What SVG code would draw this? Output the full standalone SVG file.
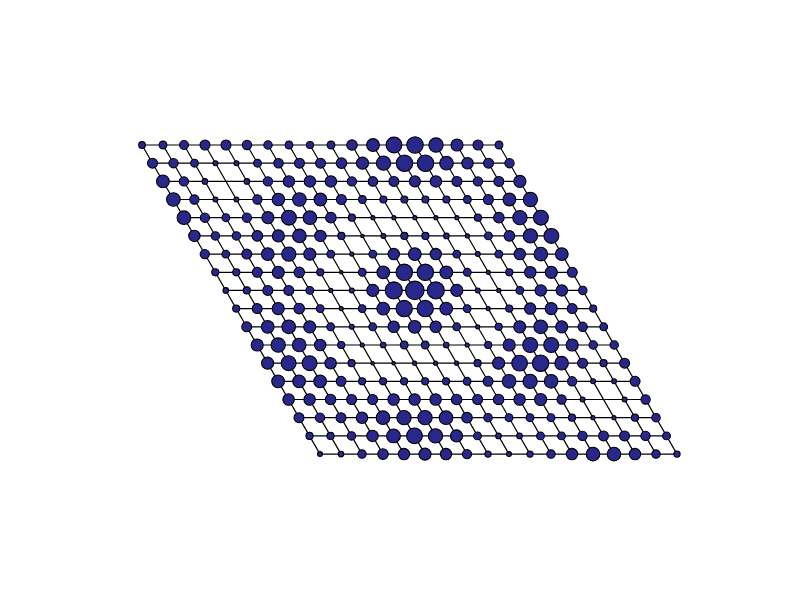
<svg xmlns="http://www.w3.org/2000/svg" width="800" height="600" viewBox="0 0 800 600">
<style>
.e line{stroke:#000;stroke-width:1.2;fill:none}
.n circle{fill:#28288c;stroke:#000;stroke-width:1;transform-box:fill-box;transform-origin:center;transform:scale(1.08)}
</style>
<rect width="800" height="600" fill="#fff"/>
<g id="connectors" class="e">
<line x1="142" y1="145" x2="499" y2="145"/>
<line x1="152.5" y1="163.2" x2="509.5" y2="163.2"/>
<line x1="162.9" y1="181.4" x2="519.9" y2="181.4"/>
<line x1="173.4" y1="199.5" x2="530.4" y2="199.5"/>
<line x1="183.9" y1="217.7" x2="540.9" y2="217.7"/>
<line x1="194.4" y1="235.9" x2="551.4" y2="235.9"/>
<line x1="204.8" y1="254.1" x2="561.8" y2="254.1"/>
<line x1="215.3" y1="272.3" x2="572.3" y2="272.3"/>
<line x1="225.8" y1="290.4" x2="582.8" y2="290.4"/>
<line x1="236.2" y1="308.6" x2="593.2" y2="308.6"/>
<line x1="246.7" y1="326.8" x2="603.7" y2="326.8"/>
<line x1="257.2" y1="345" x2="614.2" y2="345"/>
<line x1="267.6" y1="363.2" x2="624.6" y2="363.2"/>
<line x1="278.1" y1="381.3" x2="635.1" y2="381.3"/>
<line x1="288.6" y1="399.5" x2="645.6" y2="399.5"/>
<line x1="299" y1="417.7" x2="656" y2="417.7"/>
<line x1="309.5" y1="435.9" x2="666.5" y2="435.9"/>
<line x1="320" y1="454.1" x2="677" y2="454.1"/>
<line x1="142" y1="145" x2="320" y2="454.1"/>
<line x1="163" y1="145" x2="341" y2="454.1"/>
<line x1="184" y1="145" x2="362" y2="454.1"/>
<line x1="205" y1="145" x2="383" y2="454.1"/>
<line x1="226" y1="145" x2="404" y2="454.1"/>
<line x1="247" y1="145" x2="425" y2="454.1"/>
<line x1="268" y1="145" x2="446" y2="454.1"/>
<line x1="289" y1="145" x2="467" y2="454.1"/>
<line x1="310" y1="145" x2="488" y2="454.1"/>
<line x1="331" y1="145" x2="509" y2="454.1"/>
<line x1="352" y1="145" x2="530" y2="454.1"/>
<line x1="373" y1="145" x2="551" y2="454.1"/>
<line x1="394" y1="145" x2="572" y2="454.1"/>
<line x1="415" y1="145" x2="593" y2="454.1"/>
<line x1="436" y1="145" x2="614" y2="454.1"/>
<line x1="457" y1="145" x2="635" y2="454.1"/>
<line x1="478" y1="145" x2="656" y2="454.1"/>
<line x1="499" y1="145" x2="677" y2="454.1"/>
</g>
<g id="nodes" class="n">
<g transform="translate(142 145)">
<g id="n0-0"><circle cx="0" r="3.1"/></g><g id="n0-1"><circle cx="21" r="3.6"/></g><g id="n0-2"><circle cx="42" r="4.1"/></g><g id="n0-3"><circle cx="63" r="4.6"/></g><g id="n0-4"><circle cx="84" r="4.6"/></g><g id="n0-5"><circle cx="105" r="4.3"/></g><g id="n0-6"><circle cx="126" r="3.9"/></g><g id="n0-7"><circle cx="147" r="3.6"/></g><g id="n0-8"><circle cx="168" r="3.3"/></g><g id="n0-9"><circle cx="189" r="3.6"/></g><g id="n0-10"><circle cx="210" r="4.9"/></g><g id="n0-11"><circle cx="231" r="5.9"/></g><g id="n0-12"><circle cx="252" r="7.3"/></g><g id="n0-13"><circle cx="273" r="7.6"/></g><g id="n0-14"><circle cx="294" r="6.6"/></g><g id="n0-15"><circle cx="315" r="5.6"/></g><g id="n0-16"><circle cx="336" r="4.6"/></g><g id="n0-17"><circle cx="357" r="3.6"/></g>
</g>
<g transform="translate(152.5 163.2)">
<g id="n1-0"><circle cx="0" r="4.6"/></g><g id="n1-1"><circle cx="21" r="4.3"/></g><g id="n1-2"><circle cx="42" r="3.6"/></g><g id="n1-3"><circle cx="63" r="2.3"/></g><g id="n1-4"><circle cx="84" r="2.3"/></g><g id="n1-5"><circle cx="105" r="3.6"/></g><g id="n1-6"><circle cx="126" r="4.4"/></g><g id="n1-7"><circle cx="147" r="4.6"/></g><g id="n1-8"><circle cx="168" r="4.6"/></g><g id="n1-9"><circle cx="189" r="4.9"/></g><g id="n1-10"><circle cx="210" r="5.6"/></g><g id="n1-11"><circle cx="231" r="6.6"/></g><g id="n1-12"><circle cx="252" r="7.6"/></g><g id="n1-13"><circle cx="273" r="7.6"/></g><g id="n1-14"><circle cx="294" r="6.3"/></g><g id="n1-15"><circle cx="315" r="5.3"/></g><g id="n1-16"><circle cx="336" r="4.6"/></g><g id="n1-17"><circle cx="357" r="4.3"/></g>
</g>
<g transform="translate(162.9 181.4)">
<g id="n2-0"><circle cx="0" r="5.9"/></g><g id="n2-1"><circle cx="21" r="4.3"/></g><g id="n2-2"><circle cx="42" r="2.6"/></g><g id="n2-4"><circle cx="84" r="2.6"/></g><g id="n2-5"><circle cx="105" r="4.3"/></g><g id="n2-6"><circle cx="126" r="5.3"/></g><g id="n2-7"><circle cx="147" r="5.3"/></g><g id="n2-8"><circle cx="168" r="5.3"/></g><g id="n2-9"><circle cx="189" r="4.3"/></g><g id="n2-10"><circle cx="210" r="4.4"/></g><g id="n2-11"><circle cx="231" r="4.6"/></g><g id="n2-12"><circle cx="252" r="5.1"/></g><g id="n2-13"><circle cx="273" r="5.3"/></g><g id="n2-14"><circle cx="294" r="4.6"/></g><g id="n2-15"><circle cx="315" r="4.3"/></g><g id="n2-16"><circle cx="336" r="4.6"/></g><g id="n2-17"><circle cx="357" r="5.6"/></g>
</g>
<g transform="translate(173.4 199.5)">
<g id="n3-0"><circle cx="0" r="6.3"/></g><g id="n3-1"><circle cx="21" r="4.3"/></g><g id="n3-2"><circle cx="42" r="2.3"/></g><g id="n3-3"><circle cx="63" r="2.3"/></g><g id="n3-4"><circle cx="84" r="4.3"/></g><g id="n3-5"><circle cx="105" r="5.8"/></g><g id="n3-6"><circle cx="126" r="6.3"/></g><g id="n3-7"><circle cx="147" r="5.9"/></g><g id="n3-8"><circle cx="168" r="4.6"/></g><g id="n3-9"><circle cx="189" r="3.6"/></g><g id="n3-10"><circle cx="210" r="3.3"/></g><g id="n3-11"><circle cx="231" r="3.3"/></g><g id="n3-12"><circle cx="252" r="3.3"/></g><g id="n3-13"><circle cx="273" r="3.3"/></g><g id="n3-14"><circle cx="294" r="3.6"/></g><g id="n3-15"><circle cx="315" r="4.6"/></g><g id="n3-16"><circle cx="336" r="5.9"/></g><g id="n3-17"><circle cx="357" r="6.6"/></g>
</g>
<g transform="translate(183.9 217.7)">
<g id="n4-0"><circle cx="0" r="6.3"/></g><g id="n4-1"><circle cx="21" r="4.3"/></g><g id="n4-2"><circle cx="42" r="3.6"/></g><g id="n4-3"><circle cx="63" r="4.3"/></g><g id="n4-4"><circle cx="84" r="5.6"/></g><g id="n4-5"><circle cx="105" r="6.9"/></g><g id="n4-6"><circle cx="126" r="6.3"/></g><g id="n4-7"><circle cx="147" r="4.9"/></g><g id="n4-8"><circle cx="168" r="3.3"/></g><g id="n4-9"><circle cx="189" r="1.9"/></g><g id="n4-10"><circle cx="210" r="1.9"/></g><g id="n4-11"><circle cx="231" r="1.9"/></g><g id="n4-12"><circle cx="252" r="1.9"/></g><g id="n4-13"><circle cx="273" r="1.9"/></g><g id="n4-14"><circle cx="294" r="3.3"/></g><g id="n4-15"><circle cx="315" r="4.9"/></g><g id="n4-16"><circle cx="336" r="6.6"/></g><g id="n4-17"><circle cx="357" r="6.9"/></g>
</g>
<g transform="translate(194.4 235.9)">
<g id="n5-0"><circle cx="0" r="5.3"/></g><g id="n5-1"><circle cx="21" r="3.9"/></g><g id="n5-2"><circle cx="42" r="3.9"/></g><g id="n5-3"><circle cx="63" r="4.9"/></g><g id="n5-4"><circle cx="84" r="5.6"/></g><g id="n5-5"><circle cx="105" r="6.3"/></g><g id="n5-6"><circle cx="126" r="5.3"/></g><g id="n5-7"><circle cx="147" r="3.3"/></g><g id="n5-8"><circle cx="168" r="1.6"/></g><g id="n5-9"><circle cx="189" r="2.3"/></g><g id="n5-10"><circle cx="210" r="3.3"/></g><g id="n5-11"><circle cx="231" r="3.3"/></g><g id="n5-12"><circle cx="252" r="2.6"/></g><g id="n5-13"><circle cx="273" r="1.9"/></g><g id="n5-14"><circle cx="294" r="3.6"/></g><g id="n5-15"><circle cx="315" r="4.9"/></g><g id="n5-16"><circle cx="336" r="6.6"/></g><g id="n5-17"><circle cx="357" r="6.9"/></g>
</g>
<g transform="translate(204.8 254.1)">
<g id="n6-0"><circle cx="0" r="4.3"/></g><g id="n6-1"><circle cx="21" r="3.6"/></g><g id="n6-2"><circle cx="42" r="4.6"/></g><g id="n6-3"><circle cx="63" r="5.9"/></g><g id="n6-4"><circle cx="84" r="6.6"/></g><g id="n6-5"><circle cx="105" r="5.6"/></g><g id="n6-6"><circle cx="126" r="3.6"/></g><g id="n6-7"><circle cx="147" r="1.9"/></g><g id="n6-8"><circle cx="168" r="3.6"/></g><g id="n6-9"><circle cx="189" r="5.3"/></g><g id="n6-10"><circle cx="210" r="5.9"/></g><g id="n6-11"><circle cx="231" r="5.3"/></g><g id="n6-12"><circle cx="252" r="3.6"/></g><g id="n6-13"><circle cx="273" r="2.3"/></g><g id="n6-14"><circle cx="294" r="3.6"/></g><g id="n6-15"><circle cx="315" r="5.3"/></g><g id="n6-16"><circle cx="336" r="6.3"/></g><g id="n6-17"><circle cx="357" r="5.9"/></g>
</g>
<g transform="translate(215.3 272.3)">
<g id="n7-0"><circle cx="0" r="3.3"/></g><g id="n7-1"><circle cx="21" r="3.3"/></g><g id="n7-2"><circle cx="42" r="4.6"/></g><g id="n7-3"><circle cx="63" r="5.6"/></g><g id="n7-4"><circle cx="84" r="4.9"/></g><g id="n7-5"><circle cx="105" r="3.3"/></g><g id="n7-6"><circle cx="126" r="1.6"/></g><g id="n7-7"><circle cx="147" r="3.6"/></g><g id="n7-8"><circle cx="168" r="5.9"/></g><g id="n7-9"><circle cx="189" r="7.6"/></g><g id="n7-10"><circle cx="210" r="7.6"/></g><g id="n7-11"><circle cx="231" r="5.9"/></g><g id="n7-12"><circle cx="252" r="3.6"/></g><g id="n7-13"><circle cx="273" r="1.9"/></g><g id="n7-14"><circle cx="294" r="3.3"/></g><g id="n7-15"><circle cx="315" r="5.3"/></g><g id="n7-16"><circle cx="336" r="5.6"/></g><g id="n7-17"><circle cx="357" r="4.6"/></g>
</g>
<g transform="translate(225.8 290.4)">
<g id="n8-0"><circle cx="0" r="2.6"/></g><g id="n8-1"><circle cx="21" r="3.3"/></g><g id="n8-2"><circle cx="42" r="4.6"/></g><g id="n8-3"><circle cx="63" r="4.6"/></g><g id="n8-4"><circle cx="84" r="3.6"/></g><g id="n8-5"><circle cx="105" r="1.9"/></g><g id="n8-6"><circle cx="126" r="2.3"/></g><g id="n8-7"><circle cx="147" r="5.6"/></g><g id="n8-8"><circle cx="168" r="7.9"/></g><g id="n8-9"><circle cx="189" r="8.6"/></g><g id="n8-10"><circle cx="210" r="7.9"/></g><g id="n8-11"><circle cx="231" r="5.6"/></g><g id="n8-12"><circle cx="252" r="2.3"/></g><g id="n8-13"><circle cx="273" r="1.9"/></g><g id="n8-14"><circle cx="294" r="3.6"/></g><g id="n8-15"><circle cx="315" r="5.3"/></g><g id="n8-16"><circle cx="336" r="5.3"/></g><g id="n8-17"><circle cx="357" r="3.9"/></g>
</g>
<g transform="translate(236.2 308.6)">
<g id="n9-0"><circle cx="0" r="3.3"/></g><g id="n9-1"><circle cx="21" r="4.6"/></g><g id="n9-2"><circle cx="42" r="5.6"/></g><g id="n9-3"><circle cx="63" r="4.9"/></g><g id="n9-4"><circle cx="84" r="3.6"/></g><g id="n9-5"><circle cx="105" r="1.9"/></g><g id="n9-6"><circle cx="126" r="3.6"/></g><g id="n9-7"><circle cx="147" r="5.9"/></g><g id="n9-8"><circle cx="168" r="7.6"/></g><g id="n9-9"><circle cx="189" r="7.6"/></g><g id="n9-10"><circle cx="210" r="5.9"/></g><g id="n9-11"><circle cx="231" r="3.6"/></g><g id="n9-12"><circle cx="252" r="1.9"/></g><g id="n9-13"><circle cx="273" r="3.3"/></g><g id="n9-14"><circle cx="294" r="5.3"/></g><g id="n9-15"><circle cx="315" r="5.6"/></g><g id="n9-16"><circle cx="336" r="4.6"/></g><g id="n9-17"><circle cx="357" r="3.3"/></g>
</g>
<g transform="translate(246.7 326.8)">
<g id="n10-0"><circle cx="0" r="4.6"/></g><g id="n10-1"><circle cx="21" r="5.9"/></g><g id="n10-2"><circle cx="42" r="6.3"/></g><g id="n10-3"><circle cx="63" r="5.6"/></g><g id="n10-4"><circle cx="84" r="3.6"/></g><g id="n10-5"><circle cx="105" r="2.3"/></g><g id="n10-6"><circle cx="126" r="3.6"/></g><g id="n10-7"><circle cx="147" r="5.3"/></g><g id="n10-8"><circle cx="168" r="5.9"/></g><g id="n10-9"><circle cx="189" r="5.3"/></g><g id="n10-10"><circle cx="210" r="3.6"/></g><g id="n10-11"><circle cx="231" r="1.9"/></g><g id="n10-12"><circle cx="252" r="3.3"/></g><g id="n10-13"><circle cx="273" r="5.6"/></g><g id="n10-14"><circle cx="294" r="6.3"/></g><g id="n10-15"><circle cx="315" r="5.6"/></g><g id="n10-16"><circle cx="336" r="4.3"/></g><g id="n10-17"><circle cx="357" r="3.6"/></g>
</g>
<g transform="translate(257.2 345)">
<g id="n11-0"><circle cx="0" r="5.6"/></g><g id="n11-1"><circle cx="21" r="6.6"/></g><g id="n11-2"><circle cx="42" r="6.3"/></g><g id="n11-3"><circle cx="63" r="5.3"/></g><g id="n11-4"><circle cx="84" r="3.3"/></g><g id="n11-5"><circle cx="105" r="1.9"/></g><g id="n11-6"><circle cx="126" r="2.6"/></g><g id="n11-7"><circle cx="147" r="3.6"/></g><g id="n11-8"><circle cx="168" r="3.6"/></g><g id="n11-9"><circle cx="189" r="2.6"/></g><g id="n11-10"><circle cx="210" r="1.9"/></g><g id="n11-11"><circle cx="231" r="3.3"/></g><g id="n11-12"><circle cx="252" r="5.6"/></g><g id="n11-13"><circle cx="273" r="6.9"/></g><g id="n11-14"><circle cx="294" r="6.9"/></g><g id="n11-15"><circle cx="315" r="5.6"/></g><g id="n11-16"><circle cx="336" r="3.9"/></g><g id="n11-17"><circle cx="357" r="3.9"/></g>
</g>
<g transform="translate(267.6 363.2)">
<g id="n12-0"><circle cx="0" r="5.6"/></g><g id="n12-1"><circle cx="21" r="6.9"/></g><g id="n12-2"><circle cx="42" r="6.9"/></g><g id="n12-3"><circle cx="63" r="5.3"/></g><g id="n12-4"><circle cx="84" r="3.3"/></g><g id="n12-5"><circle cx="105" r="1.6"/></g><g id="n12-6"><circle cx="126" r="1.6"/></g><g id="n12-7"><circle cx="147" r="1.9"/></g><g id="n12-8"><circle cx="168" r="1.9"/></g><g id="n12-9"><circle cx="189" r="1.9"/></g><g id="n12-10"><circle cx="210" r="3.3"/></g><g id="n12-11"><circle cx="231" r="5.6"/></g><g id="n12-12"><circle cx="252" r="7.3"/></g><g id="n12-13"><circle cx="273" r="7.6"/></g><g id="n12-14"><circle cx="294" r="6.3"/></g><g id="n12-15"><circle cx="315" r="4.6"/></g><g id="n12-16"><circle cx="336" r="3.3"/></g><g id="n12-17"><circle cx="357" r="4.6"/></g>
</g>
<g transform="translate(278.1 381.3)">
<g id="n13-0"><circle cx="0" r="5.9"/></g><g id="n13-1"><circle cx="21" r="5.9"/></g><g id="n13-2"><circle cx="42" r="5.9"/></g><g id="n13-3"><circle cx="63" r="4.6"/></g><g id="n13-4"><circle cx="84" r="3.3"/></g><g id="n13-5"><circle cx="105" r="3.3"/></g><g id="n13-6"><circle cx="126" r="3.3"/></g><g id="n13-7"><circle cx="147" r="3.3"/></g><g id="n13-8"><circle cx="168" r="3.3"/></g><g id="n13-9"><circle cx="189" r="3.6"/></g><g id="n13-10"><circle cx="210" r="4.6"/></g><g id="n13-11"><circle cx="231" r="6.3"/></g><g id="n13-12"><circle cx="252" r="6.6"/></g><g id="n13-13"><circle cx="273" r="6.3"/></g><g id="n13-14"><circle cx="294" r="4.3"/></g><g id="n13-15"><circle cx="315" r="2.3"/></g><g id="n13-16"><circle cx="336" r="2.3"/></g><g id="n13-17"><circle cx="357" r="4.6"/></g>
</g>
<g transform="translate(288.6 399.5)">
<g id="n14-0"><circle cx="0" r="5.3"/></g><g id="n14-1"><circle cx="21" r="5.3"/></g><g id="n14-2"><circle cx="42" r="4.9"/></g><g id="n14-3"><circle cx="63" r="4.6"/></g><g id="n14-4"><circle cx="84" r="4.6"/></g><g id="n14-5"><circle cx="105" r="5.3"/></g><g id="n14-6"><circle cx="126" r="5.3"/></g><g id="n14-7"><circle cx="147" r="5.3"/></g><g id="n14-8"><circle cx="168" r="4.9"/></g><g id="n14-9"><circle cx="189" r="4.6"/></g><g id="n14-10"><circle cx="210" r="4.9"/></g><g id="n14-11"><circle cx="231" r="5.3"/></g><g id="n14-12"><circle cx="252" r="5.6"/></g><g id="n14-13"><circle cx="273" r="4.3"/></g><g id="n14-14"><circle cx="294" r="2.3"/></g><g id="n14-16"><circle cx="336" r="2.3"/></g><g id="n14-17"><circle cx="357" r="4.3"/></g>
</g>
<g transform="translate(299 417.7)">
<g id="n15-0"><circle cx="0" r="4.6"/></g><g id="n15-1"><circle cx="21" r="4.3"/></g><g id="n15-2"><circle cx="42" r="4.6"/></g><g id="n15-3"><circle cx="63" r="5.3"/></g><g id="n15-4"><circle cx="84" r="6.3"/></g><g id="n15-5"><circle cx="105" r="6.6"/></g><g id="n15-6"><circle cx="126" r="6.6"/></g><g id="n15-7"><circle cx="147" r="6.3"/></g><g id="n15-8"><circle cx="168" r="4.9"/></g><g id="n15-9"><circle cx="189" r="3.9"/></g><g id="n15-10"><circle cx="210" r="3.6"/></g><g id="n15-11"><circle cx="231" r="3.6"/></g><g id="n15-12"><circle cx="252" r="3.6"/></g><g id="n15-13"><circle cx="273" r="3.3"/></g><g id="n15-14"><circle cx="294" r="1.9"/></g><g id="n15-15"><circle cx="315" r="1.9"/></g><g id="n15-16"><circle cx="336" r="3.3"/></g><g id="n15-17"><circle cx="357" r="3.9"/></g>
</g>
<g transform="translate(309.5 435.9)">
<g id="n16-0"><circle cx="0" r="3.3"/></g><g id="n16-1"><circle cx="21" r="3.3"/></g><g id="n16-2"><circle cx="42" r="3.9"/></g><g id="n16-3"><circle cx="63" r="5.3"/></g><g id="n16-4"><circle cx="84" r="6.4"/></g><g id="n16-5"><circle cx="105" r="7.3"/></g><g id="n16-6"><circle cx="126" r="6.6"/></g><g id="n16-7"><circle cx="147" r="5.6"/></g><g id="n16-8"><circle cx="168" r="3.6"/></g><g id="n16-9"><circle cx="189" r="2.6"/></g><g id="n16-10"><circle cx="210" r="2.6"/></g><g id="n16-11"><circle cx="231" r="3.6"/></g><g id="n16-12"><circle cx="252" r="3.6"/></g><g id="n16-13"><circle cx="273" r="4.3"/></g><g id="n16-14"><circle cx="294" r="4.6"/></g><g id="n16-15"><circle cx="315" r="4.6"/></g><g id="n16-16"><circle cx="336" r="4.3"/></g><g id="n16-17"><circle cx="357" r="3.6"/></g>
</g>
<g transform="translate(320 454.1)">
<g id="n17-0"><circle cx="0" r="2.3"/></g><g id="n17-1"><circle cx="21" r="2.6"/></g><g id="n17-2"><circle cx="42" r="3.9"/></g><g id="n17-3"><circle cx="63" r="4.9"/></g><g id="n17-4"><circle cx="84" r="5.3"/></g><g id="n17-5"><circle cx="105" r="5.6"/></g><g id="n17-6"><circle cx="126" r="5.3"/></g><g id="n17-7"><circle cx="147" r="4.3"/></g><g id="n17-8"><circle cx="168" r="2.9"/></g><g id="n17-9"><circle cx="189" r="2.3"/></g><g id="n17-10"><circle cx="210" r="2.9"/></g><g id="n17-11"><circle cx="231" r="3.9"/></g><g id="n17-12"><circle cx="252" r="5.3"/></g><g id="n17-13"><circle cx="273" r="6.3"/></g><g id="n17-14"><circle cx="294" r="6.3"/></g><g id="n17-15"><circle cx="315" r="5.3"/></g><g id="n17-16"><circle cx="336" r="3.9"/></g><g id="n17-17"><circle cx="357" r="2.9"/></g>
</g>
</g>
</svg>
